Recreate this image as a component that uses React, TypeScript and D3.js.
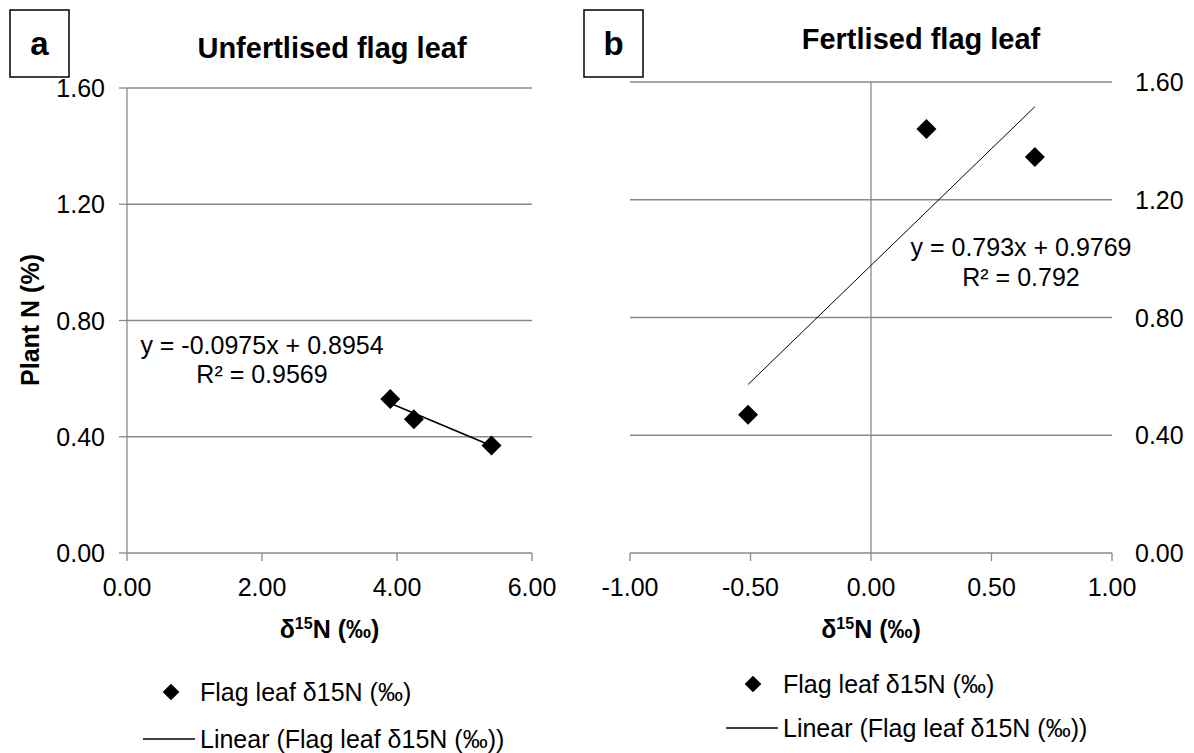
import React, { useEffect, useRef } from 'react';
import * as d3 from 'd3';

const width: number = 1194;
const height: number = 753;
const font: string = "'Liberation Sans', Arial, sans-serif";

// panel a - unfertilised flag leaf
const unfertDelta: number[] = [3.9, 4.25, 5.4];
const unfertPlantN: number[] = [0.53, 0.46, 0.37];
const unfertSlope: number = -0.0975;
const unfertIntercept: number = 0.8954;
const unfertR2: string = '0.9569';

// panel b - fertilised flag leaf
const fertDelta: number[] = [-0.51, 0.23, 0.68];
const fertPlantN: number[] = [0.47, 1.44, 1.345];
const fertSlope: number = 0.793;
const fertIntercept: number = 0.9769;
const fertR2: string = '0.792';

const yTicks: number[] = [0, 0.4, 0.8, 1.2, 1.6];
const unfertXTicks: number[] = [0, 2, 4, 6];
const fertXTicks: number[] = [-1, -0.5, 0, 0.5, 1];

const grey: string = '#898989';

const drawPanel = (svg: any, p: any) => {
  var xScale: any = d3.scaleLinear().domain(p.xDomain).range([p.left, p.right]);
  var yScale: any = d3.scaleLinear().domain([0, 1.6]).range([p.bottom, p.top]);
  // excel style labels, plain hyphen for negatives
  var fmt: any = (d: number) => d3.format('.2f')(d).replace('\u2212', '-');
  var g: any = svg.append('g');

  // horizontal gridlines
  g.selectAll('.grid')
    .data(yTicks.filter((d) => d > 0))
    .enter()
    .append('line')
    .attr('x1', p.left)
    .attr('x2', p.right)
    .attr('y1', (d: number) => yScale(d))
    .attr('y2', (d: number) => yScale(d))
    .attr('stroke', grey)
    .attr('stroke-width', 1.3);

  // vertical axis sits at x = 0
  var axisX: number = xScale(0);
  g.append('line')
    .attr('x1', axisX).attr('x2', axisX)
    .attr('y1', p.top).attr('y2', p.bottom)
    .attr('stroke', grey).attr('stroke-width', 1.3);

  // x axis
  g.append('line')
    .attr('x1', p.left).attr('x2', p.right)
    .attr('y1', p.bottom).attr('y2', p.bottom)
    .attr('stroke', grey).attr('stroke-width', 1.3);

  g.selectAll('.xtick')
    .data(p.xTicks)
    .enter()
    .append('line')
    .attr('x1', (d: number) => xScale(d))
    .attr('x2', (d: number) => xScale(d))
    .attr('y1', p.bottom)
    .attr('y2', p.bottom + 8)
    .attr('stroke', grey).attr('stroke-width', 1.3);

  g.selectAll('.xlab')
    .data(p.xTicks)
    .enter()
    .append('text')
    .attr('x', (d: number) => xScale(d))
    .attr('y', p.bottom + 43)
    .attr('text-anchor', 'middle')
    .style('font-family', font)
    .style('font-size', '25px')
    .text((d: number) => fmt(d));

  if (p.yLabelsLeft) {
    g.selectAll('.ytick')
      .data(yTicks)
      .enter()
      .append('line')
      .attr('x1', axisX - 8)
      .attr('x2', axisX)
      .attr('y1', (d: number) => yScale(d))
      .attr('y2', (d: number) => yScale(d))
      .attr('stroke', grey).attr('stroke-width', 1.3);
  }

  g.selectAll('.ylab')
    .data(yTicks)
    .enter()
    .append('text')
    .attr('x', p.yLabelX)
    .attr('y', (d: number) => yScale(d) + 9)
    .attr('text-anchor', p.yLabelsLeft ? 'end' : 'start')
    .style('font-family', font)
    .style('font-size', '25px')
    .text((d: number) => fmt(d));

  // trendline over the range of the data
  var xMin: number = d3.min(p.xs) as number;
  var xMax: number = d3.max(p.xs) as number;
  g.append('line')
    .attr('x1', xScale(xMin))
    .attr('y1', yScale(p.slope * xMin + p.intercept))
    .attr('x2', xScale(xMax))
    .attr('y2', yScale(p.slope * xMax + p.intercept))
    .attr('stroke', '#000')
    .attr('stroke-width', p.lineWidth);

  // diamond markers
  var diamond: any = d3.symbol().type(d3.symbolSquare).size(200);
  g.selectAll('.pt')
    .data(p.xs.map((x: number, i: number) => [x, p.ys[i]]))
    .enter()
    .append('path')
    .attr('d', diamond)
    .attr('transform', (d: any) => `translate(${xScale(d[0])},${yScale(d[1])}) rotate(45)`)
    .attr('fill', '#000');

  // equation
  var sign: string = p.intercept < 0 ? '-' : '+';
  g.append('text')
    .attr('x', p.eqX).attr('y', p.eqY)
    .attr('text-anchor', 'middle')
    .style('font-family', font).style('font-size', '25px')
    .text(`y = ${p.slope}x ${sign} ${Math.abs(p.intercept)}`);
  g.append('text')
    .attr('x', p.eqX).attr('y', p.eqY + p.eqGap)
    .attr('text-anchor', 'middle')
    .style('font-family', font).style('font-size', '25px')
    .text(`R² = ${p.r2}`);

  // title
  g.append('text')
    .attr('x', p.titleX).attr('y', p.titleY)
    .attr('text-anchor', 'middle')
    .style('font-family', font).style('font-size', '29px').style('font-weight', 'bold')
    .text(p.title);

  // panel letter box
  g.append('rect')
    .attr('x', p.boxX).attr('y', 10)
    .attr('width', 59).attr('height', 67)
    .attr('fill', 'none').attr('stroke', '#000').attr('stroke-width', 1.5);
  g.append('text')
    .attr('x', p.boxX + 29.5).attr('y', 55)
    .attr('text-anchor', 'middle')
    .style('font-family', font).style('font-size', '33px').style('font-weight', 'bold')
    .text(p.letter);

  // x axis title with superscript
  var xt: any = g.append('text')
    .attr('x', (p.left + p.right) / 2).attr('y', p.bottom + 85)
    .attr('text-anchor', 'middle')
    .style('font-family', font).style('font-size', '25px').style('font-weight', 'bold');
  xt.append('tspan').text('δ');
  xt.append('tspan').attr('dy', -9).style('font-size', '16px').text('15');
  xt.append('tspan').attr('dy', 9).text('N (‰)');

  // legend
  var lg: any = g.append('g').attr('transform', `translate(${p.legX},${p.legY})`);
  lg.append('path')
    .attr('d', d3.symbol().type(d3.symbolSquare).size(140))
    .attr('transform', `translate(${p.legMarkX},0) rotate(45)`)
    .attr('fill', '#000');
  lg.append('text')
    .attr('x', 0).attr('y', 9)
    .style('font-family', font).style('font-size', '25px')
    .text('Flag leaf δ15N (‰)');
  lg.append('line')
    .attr('x1', -57).attr('x2', -5)
    .attr('y1', p.legGap).attr('y2', p.legGap)
    .attr('stroke', '#000').attr('stroke-width', 1.3);
  lg.append('text')
    .attr('x', 0).attr('y', p.legGap + 9)
    .style('font-family', font).style('font-size', '25px')
    .text('Linear (Flag leaf δ15N (‰))');
};

export default function App() {
  const ref = useRef<SVGSVGElement>(null);

  useEffect(() => {
    document.body.style.margin = '0';
    var svg: any = d3.select(ref.current);
    svg.selectAll('*').remove();
    svg.append('rect').attr('width', width).attr('height', height).attr('fill', '#fff');

    drawPanel(svg, {
      xDomain: [0, 6], left: 127, right: 532, top: 88, bottom: 553,
      xTicks: unfertXTicks, yLabelsLeft: true, yLabelX: 105,
      xs: unfertDelta, ys: unfertPlantN, slope: unfertSlope, intercept: unfertIntercept, r2: unfertR2,
      lineWidth: 1.6, eqX: 262, eqY: 354, eqGap: 29,
      title: 'Unfertlised flag leaf', titleX: 332, titleY: 58,
      boxX: 10, letter: 'a',
      legX: 200, legY: 692, legMarkX: -29, legGap: 47
    });

    drawPanel(svg, {
      xDomain: [-1, 1], left: 630, right: 1112, top: 82, bottom: 553,
      xTicks: fertXTicks, yLabelsLeft: false, yLabelX: 1135,
      xs: fertDelta, ys: fertPlantN, slope: fertSlope, intercept: fertIntercept, r2: fertR2,
      lineWidth: 1, eqX: 1021, eqY: 256, eqGap: 30,
      title: 'Fertlised flag leaf', titleX: 921, titleY: 49,
      boxX: 584, letter: 'b',
      legX: 783, legY: 684, legMarkX: -30, legGap: 44
    });

    // y axis title, shared
    svg.append('text')
      .attr('transform', 'translate(39,320) rotate(-90)')
      .attr('text-anchor', 'middle')
      .style('font-family', font).style('font-size', '25px').style('font-weight', 'bold')
      .text('Plant N (%)');
  }, []);

  return <svg ref={ref} width={width} height={height} style={{ display: 'block' }} />;
}
